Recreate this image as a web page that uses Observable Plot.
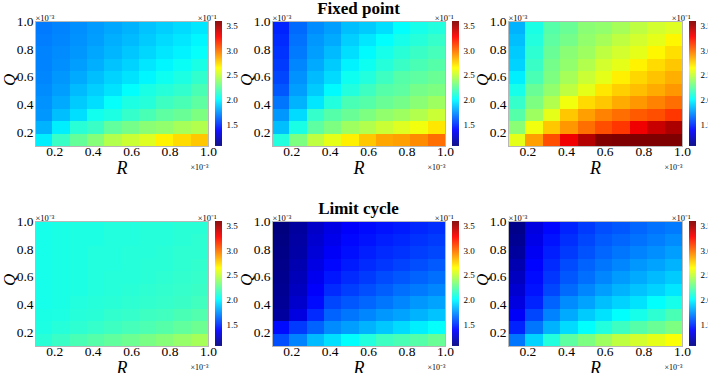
<!DOCTYPE html>
<html>
<head>
<meta charset="utf-8">
<script src="https://cdn.jsdelivr.net/npm/d3@7"></script>
<script src="https://cdn.jsdelivr.net/npm/@observablehq/plot@0.6"></script>
<style>
  body { margin: 0; background: #fff; }
  #fig { position: relative; width: 708px; height: 373px; overflow: hidden; background: #fff;
         font-family: "Liberation Serif", "Times New Roman", serif; }
  #fig > svg { position: absolute; }
  .title { position: absolute; transform: translateX(-50%); font-weight: bold; font-size: 17px;
           line-height: 1; white-space: nowrap; color: #000; }
</style>
</head>
<body>
<div id="fig"></div>
<script>
// Grid coordinates (units of 1e-3): columns R, rows Q listed top to bottom
const rValues = [0.1, 0.2, 0.3, 0.4, 0.5, 0.6, 0.7, 0.8, 0.9, 1.0];
const qValues = [1.0, 0.9, 0.8, 0.7, 0.6, 0.5, 0.4, 0.3, 0.2, 0.1];
const extent = [0.1, 1.0];
const xTicks = [0.2, 0.4, 0.6, 0.8, 1.0];
const yTicks = [0.2, 0.4, 0.6, 0.8, 1.0];

// Colour bar (units of 1e-1)
const cbarExtent = [1.06, 3.59];
const cbarTicks = [1.5, 2.0, 2.5, 3.0, 3.5];
const jetStops = [0, 0.125, 0.375, 0.625, 0.875, 1];
const jetColors = ["#00007f", "#0000ff", "#00ffff", "#ffff00", "#ff0000", "#7f0000"];

const titles = ["Fixed point", "Limit cycle"];

// Fixed point
const fixedA = [
  [1.68, 1.70, 1.73, 1.76, 1.79, 1.82, 1.86, 1.89, 1.92, 1.95],
  [1.69, 1.71, 1.74, 1.77, 1.81, 1.84, 1.88, 1.92, 1.95, 1.99],
  [1.70, 1.72, 1.75, 1.79, 1.83, 1.87, 1.91, 1.95, 1.98, 2.02],
  [1.70, 1.73, 1.77, 1.81, 1.86, 1.90, 1.95, 1.99, 2.03, 2.07],
  [1.71, 1.75, 1.80, 1.85, 1.90, 1.94, 1.99, 2.04, 2.08, 2.13],
  [1.72, 1.77, 1.84, 1.89, 1.94, 2.01, 2.07, 2.10, 2.13, 2.19],
  [1.74, 1.80, 1.88, 1.93, 2.02, 2.08, 2.10, 2.16, 2.19, 2.24],
  [1.75, 1.85, 1.93, 2.05, 2.08, 2.14, 2.19, 2.24, 2.27, 2.32],
  [1.82, 1.97, 2.11, 2.15, 2.25, 2.30, 2.35, 2.37, 2.42, 2.45],
  [1.97, 2.15, 2.26, 2.34, 2.45, 2.51, 2.56, 2.67, 2.73, 2.78]
];
const fixedB = [
  [1.46, 1.64, 1.72, 1.77, 1.85, 1.88, 1.93, 2.01, 2.06, 2.09],
  [1.48, 1.66, 1.75, 1.80, 1.89, 1.95, 2.01, 2.06, 2.10, 2.14],
  [1.50, 1.68, 1.77, 1.84, 1.93, 2.00, 2.06, 2.11, 2.15, 2.18],
  [1.52, 1.71, 1.80, 1.88, 1.98, 2.04, 2.10, 2.15, 2.19, 2.22],
  [1.55, 1.74, 1.84, 1.92, 2.04, 2.09, 2.16, 2.22, 2.24, 2.27],
  [1.59, 1.77, 1.88, 2.00, 2.09, 2.16, 2.22, 2.24, 2.30, 2.32],
  [1.67, 1.82, 1.95, 2.09, 2.19, 2.22, 2.27, 2.30, 2.35, 2.40],
  [1.75, 1.92, 2.14, 2.22, 2.27, 2.32, 2.37, 2.40, 2.45, 2.51],
  [1.85, 2.07, 2.24, 2.32, 2.40, 2.45, 2.51, 2.56, 2.61, 2.70],
  [2.09, 2.32, 2.48, 2.58, 2.68, 2.78, 2.86, 2.88, 2.93, 3.00]
];
const fixedC = [
  [1.82, 2.07, 2.22, 2.27, 2.35, 2.37, 2.42, 2.48, 2.53, 2.56],
  [1.85, 2.09, 2.24, 2.30, 2.37, 2.42, 2.48, 2.53, 2.58, 2.66],
  [1.88, 2.12, 2.27, 2.35, 2.40, 2.48, 2.53, 2.58, 2.66, 2.72],
  [1.90, 2.15, 2.30, 2.37, 2.45, 2.53, 2.58, 2.67, 2.73, 2.78],
  [1.97, 2.19, 2.32, 2.42, 2.51, 2.58, 2.68, 2.74, 2.79, 2.84],
  [2.06, 2.27, 2.37, 2.48, 2.58, 2.70, 2.76, 2.80, 2.85, 2.90],
  [2.14, 2.32, 2.45, 2.61, 2.73, 2.78, 2.85, 2.90, 2.95, 3.00],
  [2.22, 2.40, 2.58, 2.78, 2.88, 2.95, 3.00, 3.05, 3.08, 3.14],
  [2.35, 2.61, 2.78, 2.90, 3.00, 3.08, 3.14, 3.31, 3.41, 3.48],
  [2.58, 2.88, 3.08, 3.31, 3.46, 3.58, 3.59, 3.59, 3.59, 3.59]
];

// Limit cycle
const limitA = [
  [2.06, 2.07, 2.08, 2.08, 2.09, 2.09, 2.10, 2.10, 2.11, 2.11],
  [2.06, 2.07, 2.08, 2.08, 2.09, 2.09, 2.10, 2.10, 2.11, 2.12],
  [2.06, 2.07, 2.08, 2.09, 2.09, 2.10, 2.10, 2.11, 2.12, 2.12],
  [2.06, 2.07, 2.08, 2.09, 2.09, 2.10, 2.11, 2.11, 2.12, 2.13],
  [2.06, 2.07, 2.08, 2.09, 2.10, 2.10, 2.11, 2.12, 2.13, 2.14],
  [2.06, 2.07, 2.08, 2.09, 2.10, 2.11, 2.12, 2.13, 2.14, 2.15],
  [2.06, 2.07, 2.09, 2.10, 2.11, 2.12, 2.13, 2.14, 2.15, 2.17],
  [2.07, 2.08, 2.10, 2.11, 2.13, 2.14, 2.16, 2.17, 2.19, 2.21],
  [2.08, 2.10, 2.12, 2.14, 2.16, 2.18, 2.20, 2.22, 2.25, 2.28],
  [2.11, 2.15, 2.19, 2.22, 2.25, 2.28, 2.31, 2.34, 2.38, 2.42]
];
const limitB = [
  [1.06, 1.14, 1.24, 1.31, 1.37, 1.40, 1.42, 1.44, 1.47, 1.49],
  [1.07, 1.15, 1.26, 1.33, 1.39, 1.42, 1.45, 1.47, 1.50, 1.52],
  [1.08, 1.16, 1.28, 1.36, 1.41, 1.45, 1.48, 1.50, 1.53, 1.55],
  [1.09, 1.18, 1.31, 1.39, 1.44, 1.48, 1.51, 1.54, 1.57, 1.60],
  [1.10, 1.20, 1.34, 1.43, 1.48, 1.52, 1.56, 1.59, 1.62, 1.65],
  [1.11, 1.22, 1.37, 1.48, 1.53, 1.57, 1.61, 1.65, 1.68, 1.71],
  [1.12, 1.25, 1.40, 1.55, 1.59, 1.63, 1.67, 1.71, 1.75, 1.78],
  [1.14, 1.30, 1.48, 1.62, 1.67, 1.71, 1.75, 1.78, 1.82, 1.86],
  [1.40, 1.52, 1.62, 1.72, 1.77, 1.82, 1.87, 1.92, 1.97, 2.02],
  [1.57, 1.70, 1.84, 1.93, 2.01, 2.09, 2.16, 2.19, 2.22, 2.27]
];
const limitC = [
  [1.09, 1.30, 1.39, 1.46, 1.52, 1.57, 1.59, 1.63, 1.66, 1.68],
  [1.11, 1.32, 1.42, 1.49, 1.55, 1.60, 1.63, 1.66, 1.69, 1.72],
  [1.14, 1.35, 1.45, 1.52, 1.58, 1.63, 1.67, 1.70, 1.73, 1.77],
  [1.18, 1.38, 1.48, 1.56, 1.62, 1.67, 1.71, 1.75, 1.78, 1.82],
  [1.22, 1.40, 1.51, 1.59, 1.65, 1.71, 1.76, 1.80, 1.84, 1.88],
  [1.26, 1.42, 1.55, 1.64, 1.71, 1.77, 1.82, 1.86, 1.90, 1.95],
  [1.30, 1.46, 1.62, 1.72, 1.78, 1.85, 1.90, 1.94, 2.01, 2.06],
  [1.36, 1.55, 1.70, 1.80, 1.88, 1.94, 2.01, 2.06, 2.12, 2.19],
  [1.46, 1.67, 1.82, 1.92, 2.01, 2.09, 2.16, 2.22, 2.27, 2.32],
  [1.67, 1.90, 2.09, 2.24, 2.32, 2.40, 2.48, 2.53, 2.58, 2.63]
];

// ---- layout ----
const FONT = "Liberation Serif, Times New Roman, serif";
const M = {l: 35, r: 22, t: 22, b: 30};      // heatmap margins
const CB = {l: 30, w: 7, r: 22, gap: 7};     // colour bar geometry
const plotH = 125;
const colLeft = [35, 272, 508];
const colW = [173, 173, 174];
const rowTop = [21, 221];

const colorOpts = {
  type: "linear",
  domain: jetStops.map(t => cbarExtent[0] + t * (cbarExtent[1] - cbarExtent[0])),
  range: jetColors,
  interpolate: "rgb",
  clamp: true
};

const nx = rValues.length, ny = qValues.length;
const cw = (extent[1] - extent[0]) / nx;
const ch = (extent[1] - extent[0]) / ny;
const cellsOf = grid => grid.flatMap((row, j) => row.map((v, i) => ({i, j, v})));

function heatmap(grid, w) {
  return Plot.plot({
    width: M.l + w + M.r, height: M.t + plotH + M.b,
    marginLeft: M.l, marginRight: M.r, marginTop: M.t, marginBottom: M.b,
    style: {background: "none", fontFamily: FONT, fontSize: "13px", overflow: "visible", color: "#000"},
    x: {domain: extent},
    y: {domain: extent},
    color: colorOpts,
    marks: [
      Plot.rect(cellsOf(grid), {
        x1: d => extent[0] + d.i * cw, x2: d => extent[0] + (d.i + 1) * cw,
        y1: d => extent[1] - (d.j + 1) * ch, y2: d => extent[1] - d.j * ch,
        fill: "v", shapeRendering: "crispEdges"
      }),
      Plot.frame({stroke: "#b8b8b8"}),
      Plot.axisX({ticks: xTicks, tickSize: 0, tickPadding: 0, tickFormat: ".1f", label: null, fontSize: 13.5}),
      Plot.axisY({ticks: yTicks, tickSize: 0, tickPadding: 2, tickFormat: ".1f", label: null, fontSize: 13.5}),
      Plot.text(["R"], {frameAnchor: "bottom", dy: 27, fontStyle: "italic", fontSize: 18}),
      Plot.text(["Q"], {frameAnchor: "left", dx: -26, dy: 2, rotate: -90, fontStyle: "italic", fontSize: 17}),
      Plot.text(["×10⁻³"], {frameAnchor: "top-left", textAnchor: "start", lineAnchor: "bottom", dy: -1, fontSize: 8.5}),
      Plot.text(["×10⁻³"], {frameAnchor: "bottom-right", textAnchor: "end", lineAnchor: "bottom", dy: 23, fontSize: 8})
    ]
  });
}

const nSteps = 250;
const cbStep = (cbarExtent[1] - cbarExtent[0]) / nSteps;
const cbarLevels = d3.range(nSteps).map(k => cbarExtent[0] + k * cbStep);

function colorbar() {
  return Plot.plot({
    width: CB.l + CB.w + CB.r, height: M.t + plotH + M.b,
    marginLeft: CB.l, marginRight: CB.r, marginTop: M.t, marginBottom: M.b,
    style: {background: "none", fontFamily: FONT, fontSize: "9px", overflow: "visible", color: "#000"},
    x: {domain: [0, 1], axis: null},
    y: {domain: cbarExtent, axis: null},
    color: colorOpts,
    marks: [
      Plot.rect(cbarLevels, {
        x1: 0, x2: 1,
        y1: d => d, y2: d => Math.min(d + cbStep * 1.6, cbarExtent[1]),
        fill: d => d + cbStep / 2
      }),
      Plot.axisY({anchor: "right", ticks: cbarTicks, tickSize: 0, tickPadding: 4, tickFormat: ".1f", label: null, fontSize: 9}),
      Plot.text(["×10⁻¹"], {frameAnchor: "top-right", textAnchor: "end", lineAnchor: "bottom", dx: -6, dy: -1, fontSize: 8.5})
    ]
  });
}

const fig = document.getElementById("fig");
const grids = [[fixedA, fixedB, fixedC], [limitA, limitB, limitC]];

grids.forEach((row, r) => {
  row.forEach((grid, c) => {
    const hm = heatmap(grid, colW[c]);
    hm.style.left = (colLeft[c] - M.l) + "px";
    hm.style.top = (rowTop[r] - M.t) + "px";
    fig.appendChild(hm);

    const cb = colorbar();
    cb.style.left = (colLeft[c] + colW[c] + CB.gap - CB.l) + "px";
    cb.style.top = (rowTop[r] - M.t) + "px";
    fig.appendChild(cb);
  });
  const t = document.createElement("div");
  t.className = "title";
  t.textContent = titles[r];
  t.style.left = (colLeft[1] + colW[1] / 2) + "px";
  t.style.top = (rowTop[r] - 21) + "px";
  fig.appendChild(t);
});
</script>
</body>
</html>
